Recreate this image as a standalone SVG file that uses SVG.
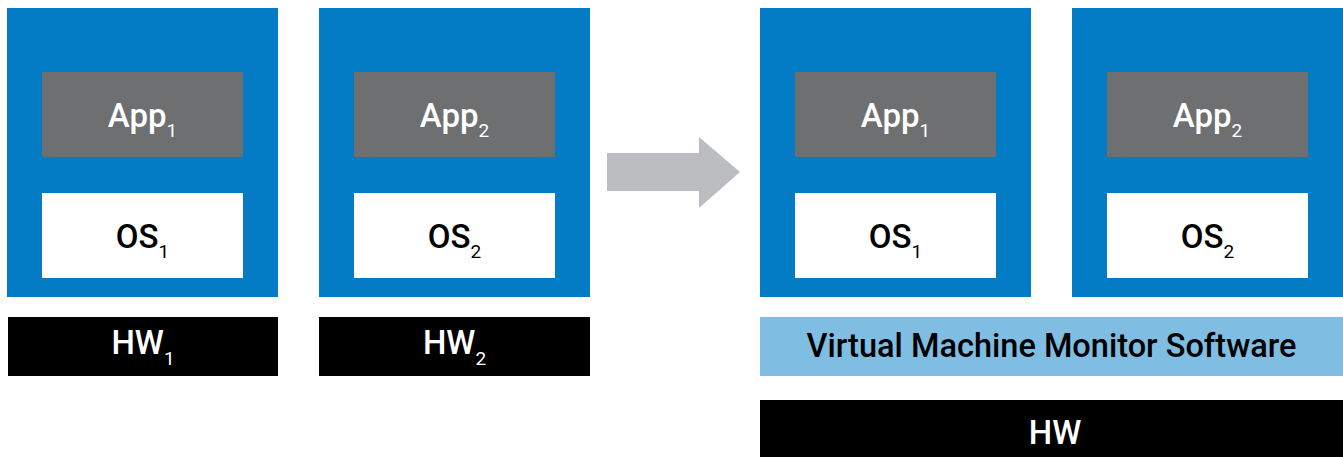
<svg xmlns="http://www.w3.org/2000/svg" width="1343" height="457" viewBox="0 0 1343 457">
  <style>
    .vm { fill: #037cc5; }
    .app { fill: #6e6f71; }
    .os { fill: #ffffff; }
    .hw { fill: #000000; }
    .vmm { fill: #7fbde2; }
    .arrow { fill: #bcbdc0; }
    text { font-family: Roboto, "Liberation Sans", sans-serif; font-size: 33px; font-weight: 500; text-anchor: middle; }
    .light { fill: #ffffff; }
    .dark { fill: #000000; }
    .sub { font-size: 19px; font-weight: 400; }
  </style>

  <!-- Left side: one machine per hardware box -->
  <g id="vm-left-1">
    <rect class="vm" x="7" y="8" width="271" height="289"/>
    <rect class="app" x="42" y="72" width="201" height="85"/>
    <text class="light" x="142.5" y="127">App<tspan class="sub" dy="10">1</tspan></text>
    <rect class="os" x="42" y="193" width="201" height="85"/>
    <text class="dark" x="142.5" y="248">OS<tspan class="sub" dy="10">1</tspan></text>
  </g>
  <g id="hw-left-1">
    <rect class="hw" x="8" y="317" width="270" height="59"/>
    <text class="light" x="143" y="354">HW<tspan class="sub" dy="11">1</tspan></text>
  </g>

  <g id="vm-left-2">
    <rect class="vm" x="319" y="8" width="271" height="289"/>
    <rect class="app" x="354" y="72" width="201" height="85"/>
    <text class="light" x="454.5" y="127">App<tspan class="sub" dy="10">2</tspan></text>
    <rect class="os" x="354" y="193" width="201" height="85"/>
    <text class="dark" x="454.5" y="248">OS<tspan class="sub" dy="10">2</tspan></text>
  </g>
  <g id="hw-left-2">
    <rect class="hw" x="319" y="317" width="271" height="59"/>
    <text class="light" x="454.5" y="354">HW<tspan class="sub" dy="11">2</tspan></text>
  </g>

  <!-- Transition arrow -->
  <g id="connectors">
    <polygon class="arrow" points="607,153 699,153 699,137 740,172 699,208 699,191 607,191"/>
  </g>

  <!-- Right side: both machines on one monitor and one hardware box -->
  <g id="vm-right-1">
    <rect class="vm" x="760" y="8" width="271" height="289"/>
    <rect class="app" x="795" y="72" width="201" height="85"/>
    <text class="light" x="895.5" y="127">App<tspan class="sub" dy="10">1</tspan></text>
    <rect class="os" x="795" y="193" width="201" height="85"/>
    <text class="dark" x="895.5" y="248">OS<tspan class="sub" dy="10">1</tspan></text>
  </g>
  <g id="vm-right-2">
    <rect class="vm" x="1072" y="8" width="271" height="289"/>
    <rect class="app" x="1107" y="72" width="201" height="85"/>
    <text class="light" x="1207.5" y="127">App<tspan class="sub" dy="10">2</tspan></text>
    <rect class="os" x="1107" y="193" width="201" height="85"/>
    <text class="dark" x="1207.5" y="248">OS<tspan class="sub" dy="10">2</tspan></text>
  </g>
  <g id="vmm">
    <rect class="vmm" x="760" y="317" width="583" height="59"/>
    <text class="dark" x="1051.5" y="357" font-size="31" textLength="490" lengthAdjust="spacingAndGlyphs">Virtual Machine Monitor Software</text>
  </g>
  <g id="hw-shared">
    <rect class="hw" x="760" y="400" width="583" height="57"/>
    <text class="light" x="1055" y="444">HW</text>
  </g>
</svg>
